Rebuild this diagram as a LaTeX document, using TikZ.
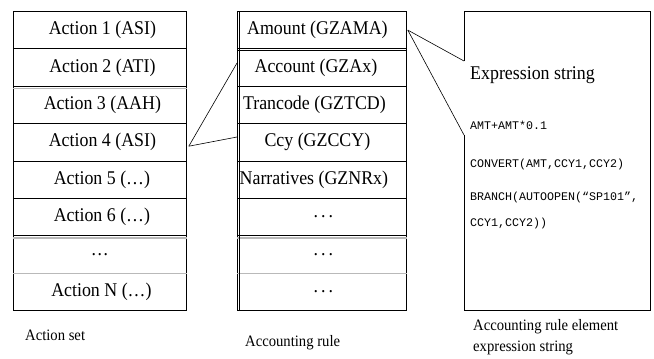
\documentclass[tikz,border=0pt]{standalone}
\usepackage{fontspec}
\setmainfont{Liberation Serif}
\setmonofont{Liberation Mono}
\newfontfamily\tallserif[FakeStretch=0.92]{Liberation Serif}
\begin{document}
\begin{tikzpicture}[x=1bp,y=-1bp,
  cell/.style={draw, line width=0.8bp, minimum height=37.375bp, inner sep=0pt,
    anchor=north west, font=\tallserif\fontsize{19.5}{21}\selectfont},
  cellL/.style={cell, minimum width=173bp},
  cellM/.style={cell, minimum width=169bp},
  grayline/.style={draw=gray!55, line width=1.4bp},
  thin/.style={draw, line width=0.6bp},
  mono/.style={anchor=west, inner sep=0pt, font=\fontsize{11.7}{14}\ttfamily},
  caption/.style={anchor=west, inner sep=0pt, align=left, font=\tallserif\fontsize{16}{21.5}\selectfont}]
\useasboundingbox (0,0) rectangle (654,358);

% Action set
\node[cellL] (a1) at (13,11) {\hspace*{5bp}Action 1 (ASI)};
\node[cellL] (a2) at (13,48.375) {\hspace*{5bp}Action 2 (ATI)};
\node[cellL] (a3) at (13,85.75) {\hspace*{5bp}Action 3 (AAH)};
\node[cellL] (a4) at (13,123.125) {\hspace*{5bp}Action 4 (ASI)};
\node[cellL] (a5) at (13,160.5) {\hspace*{4bp}Action 5 (…)};
\node[cellL] (a6) at (13,197.875) {\hspace*{4bp}Action 6 (…)};
\node[cellL] (a7) at (13,235.25) {…};
\node[cellL] (a8) at (13,272.625) {\hspace*{3bp}Action N (…)};

% Accounting rule
\node[cellM] (m1) at (237,11) {Amount (GZAMA)\hspace*{9bp}};
\node[cellM] (m2) at (237,48.375) {Account (GZAx)\hspace*{12bp}};
\node[cellM] (m3) at (237,85.75) {Trancode (GZTCD)\hspace*{15bp}};
\node[cellM] (m4) at (237,123.125) {Ccy (GZCCY)\hspace*{9bp}};
\node[cellM] (m5) at (237,160.5) {Narratives (GZNRx)\hspace*{16bp}};
\node[cellM] (m6) at (237,197.875) {.\hspace{3bp}.\hspace{3bp}.\hspace*{-3bp}};
\node[cellM] (m7) at (237,235.25) {.\hspace{3bp}.\hspace{3bp}.\hspace*{-3bp}};
\node[cellM] (m8) at (237,272.625) {.\hspace{3bp}.\hspace{3bp}.\hspace*{-3bp}};

% double / grey rules
\draw[grayline] ([yshift=-1.8bp]a2.south west) -- ([yshift=-1.8bp]a2.south east);
\draw[grayline] ([yshift=-1.8bp]a6.south west) -- ([yshift=-1.8bp]a6.south east);
\draw[grayline] (a7.south west) -- (a7.south east);
\draw[grayline] ([yshift=-1.8bp]m6.south west) -- ([yshift=-1.8bp]m6.south east);
\draw[grayline] (m7.south west) -- (m7.south east);
\draw[line width=0.8bp] ([yshift=-1.7bp]m1.south west) -- ([yshift=-1.7bp]m1.south east);
\draw[line width=0.8bp] ([xshift=2.4bp]m1.north west) -- ([xshift=2.4bp]m8.south west);

% right box (callout)
\node[minimum width=186bp, minimum height=299bp, inner sep=0pt, anchor=north west] (rb) at (464,11) {};
\coordinate (c1) at (464,61);
\coordinate (c2) at (464,135);
\draw[line width=0.8bp] (c1) -- (rb.north west) -- (rb.north east) -- (rb.south east) -- (rb.south west) -- (c2);

\node[anchor=west, inner sep=0pt, font=\tallserif\fontsize{19.5}{21}\selectfont] (es) at (470,75) {Expression string};
\node[mono] (e1) at (470,125) {AMT+AMT*0.1};
\node[mono] (e2) at (470,164) {CONVERT(AMT,CCY1,CCY2)};
\node[mono] (e3) at (470,197) {BRANCH(AUTOOPEN(“SP101”,};
\node[mono] (e4) at (470,223) {CCY1,CCY2))};

% callout connectors
\coordinate (ap) at ([xshift=1bp]m1.east);
\draw[thin] (ap) -- (c1);
\draw[thin] (ap) -- (c2);
\coordinate (lp) at ([xshift=2bp,yshift=-4bp]a4.east);
\coordinate (q1) at (237,63);
\coordinate (q2) at (237,137);
\draw[thin] (lp) -- (q1);
\draw[thin] (lp) -- (q2);

% captions
\node[caption] (l1) at (25,335) {Action set};
\node[caption] (l2) at (245,343) {Accounting rule};
\node[caption, anchor=north west] (l3) at (473,319) {Accounting rule element\\expression string};
\end{tikzpicture}
\end{document}
